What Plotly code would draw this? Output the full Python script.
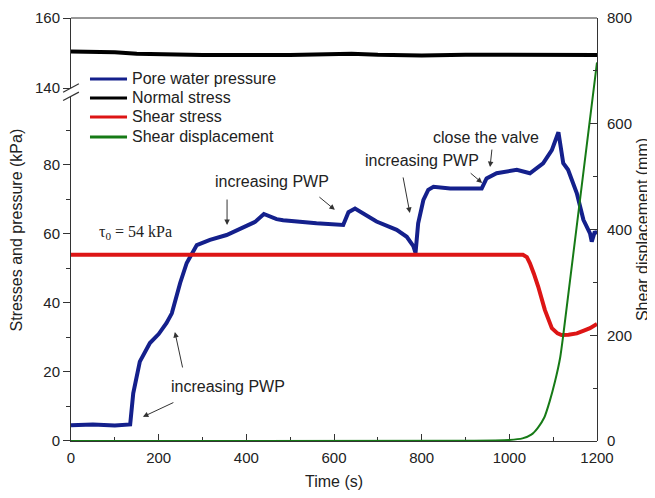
import plotly.graph_objects as go

# ---- data ----
pwp_t = [0, 50, 100, 135, 142, 157, 180, 200, 218, 230, 249, 264, 287, 317, 355, 393, 420, 440,
         469, 484, 515, 560, 621, 633, 648, 697, 743, 766, 781, 786, 792, 804, 815, 827, 865, 900,
         937, 948, 971, 1017, 1047, 1077, 1097, 1112, 1123, 1134, 1154, 1169, 1184, 1188, 1195, 1200]
pwp_v = [4.6, 4.8, 4.5, 4.8, 13.8, 23, 28.4, 31, 34.2, 37, 45.8, 51.6, 56.8, 58.3, 59.7, 62.1, 63.5, 65.8,
         64.3, 64, 63.6, 63.1, 62.6, 66.3, 67.4, 63.6, 61.2, 59.2, 56.5, 54.5, 63.1, 69.9, 72.8, 73.7, 73.2, 73.3,
         73.2, 76.1, 77.6, 78.6, 77.6, 80.5, 84.3, 89.5, 80.5, 78.6, 71.8, 64.1, 60.2, 57.8, 60.7, 60]

normal_t = [0, 100, 150, 300, 500, 640, 700, 800, 900, 1000, 1200]
normal_v = [150.4, 150.2, 149.8, 149.4, 149.4, 149.8, 149.5, 149.3, 149.5, 149.5, 149.4]

shear_t = [0, 1031, 1040, 1047, 1056, 1066, 1081, 1097, 1110, 1119, 1135, 1154, 1170, 1184, 1200]
shear_v = [54, 54, 53.3, 51.5, 48.5, 44.7, 38, 32.7, 31.2, 30.7, 30.8, 31.2, 32, 32.7, 33.9]

disp_t = [0, 900, 1000, 1030, 1050, 1065, 1080, 1092, 1104, 1116, 1123, 1200]
disp_v = [0, 0.5, 2, 5, 12, 25, 45, 75, 112, 158, 200, 716]

series_names = ["Pore water pressure", "Normal stress", "Shear stress", "Shear displacement"]
series_colors = ["#14208c", "#000000", "#dd1515", "#167a16"]

x_ticks = [0, 200, 400, 600, 800, 1000, 1200]
y_low_ticks = [0, 20, 40, 60, 80]
y_top_ticks = [140, 160]
y_right_ticks = [0, 200, 400, 600, 800]

FONT = "Liberation Sans, Arial, sans-serif"
TXT = "#222222"
AX = "#333333"

fig = go.Figure()
fig.add_trace(go.Scatter(x=pwp_t, y=pwp_v, mode="lines", name=series_names[0],
                         line=dict(color=series_colors[0], width=4), xaxis="x", yaxis="y"))
fig.add_trace(go.Scatter(x=normal_t, y=normal_v, mode="lines", name=series_names[1],
                         line=dict(color=series_colors[1], width=4), xaxis="x", yaxis="y3"))
fig.add_trace(go.Scatter(x=shear_t, y=shear_v, mode="lines", name=series_names[2],
                         line=dict(color=series_colors[2], width=4), xaxis="x", yaxis="y"))
fig.add_trace(go.Scatter(x=disp_t, y=disp_v, mode="lines", name=series_names[3],
                         line=dict(color=series_colors[3], width=2, shape="spline", smoothing=0.5),
                         xaxis="x", yaxis="y2"))

low_top = 0.8148
up_bot = 0.8345

# page body has an 8px margin, so the figure is sized/offset to land on the reference's pixels
fig.update_layout(
    width=647, height=490,
    margin=dict(l=63, r=58, t=10, b=57, autoexpand=False),
    paper_bgcolor="white", plot_bgcolor="rgba(0,0,0,0)",
    font=dict(family=FONT, size=15, color=TXT),
    showlegend=False,
    xaxis=dict(domain=[0, 1], range=[0, 1200], anchor="y", tickvals=x_ticks, automargin=False,
               ticks="inside", ticklen=7, tickcolor=AX, showline=True, linecolor=AX, linewidth=1,
               minor=dict(dtick=100, tick0=0, ticks="inside", ticklen=4, tickcolor=AX),
               showgrid=False, zeroline=False, ticklabelstandoff=3,
               title=dict(text="Time (s)", standoff=10, font=dict(size=16))),
    yaxis=dict(domain=[0, low_top], range=[0, 99.9], anchor="x", tickvals=y_low_ticks, automargin=False,
               ticks="outside", ticklen=7, tickcolor=AX, showline=True, linecolor=AX, linewidth=1,
               minor=dict(dtick=10, tick0=0, ticks="outside", ticklen=4, tickcolor=AX),
               showgrid=False, zeroline=False),
    yaxis3=dict(domain=[up_bot, 1], range=[140, 160], anchor="x", tickvals=y_top_ticks, automargin=False,
                ticks="outside", ticklen=7, tickcolor=AX, showline=True, linecolor=AX, linewidth=1,
                showgrid=False, zeroline=False),
    yaxis2=dict(domain=[0, 1], range=[0, 800], anchor="x", side="right", tickvals=y_right_ticks,
                automargin=False,
                ticks="inside", ticklen=7, tickcolor=AX, showline=True, linecolor=AX, linewidth=1,
                minor=dict(dtick=100, tick0=0, ticks="inside", ticklen=4, tickcolor=AX),
                showgrid=False, zeroline=False, ticklabelstandoff=6,
                title=dict(text="Shear displacement (mm)", standoff=5, font=dict(size=16))),
)

# top frame line and axis break marks
fig.add_shape(type="line", xref="paper", yref="paper", x0=0, x1=1, y0=1, y1=1,
              line=dict(color=AX, width=1))
for yb in (low_top, up_bot):
    fig.add_shape(type="line", xref="paper", yref="paper",
                  x0=-0.015, x1=0.015, y0=yb - 0.010, y1=yb + 0.010,
                  line=dict(color=AX, width=1.2))

# manual legend (keeps the reference's tight row spacing)
leg_rows = [0.8558, 0.8109, 0.7660, 0.7187]
for name, col, yy in zip(series_names, series_colors, leg_rows):
    fig.add_shape(type="line", xref="paper", yref="paper", x0=0.0361, x1=0.1065, y0=yy, y1=yy,
                  line=dict(color=col, width=3))
    fig.add_annotation(text=name, xref="paper", yref="paper", x=0.112, y=yy, xanchor="left",
                       yanchor="middle", showarrow=False, font=dict(size=16, color=TXT))

# left axis title
fig.add_annotation(text="Stresses and pressure (kPa)", xref="paper", yref="paper",
                   x=-0.1027, y=0.5, textangle=-90, showarrow=False,
                   xanchor="center", yanchor="middle", font=dict(size=16, color=TXT))

# text labels
labels = [("increasing PWP", 358, 15.7), ("increasing PWP", 459, 75.1),
          ("increasing PWP", 801, 81.4), ("close the valve", 947, 88.1)]
for txt, tx, ty in labels:
    fig.add_annotation(text=txt, x=tx, y=ty, xref="x", yref="y", showarrow=False,
                       font=dict(size=16, color=TXT))
fig.add_annotation(text="τ<sub>0</sub> = 54 kPa", x=146, y=60.3, xref="x", yref="y",
                   showarrow=False, font=dict(size=16, color=TXT,
                                              family="Liberation Serif, Times New Roman, serif"))

# arrows (head in data coords, tail as pixel offset)
arrows = [(164, 7.0, 32, -15), (237, 31.6, 8, 37), (356, 62.6, 0, -27), (602, 67.0, -17, -14),
          (773, 66.1, -7, -37), (938, 74.8, -13, -11), (956, 79.4, 2, -19)]
for hx, hy, ax, ay in arrows:
    fig.add_annotation(text="", x=hx, y=hy, xref="x", yref="y", ax=ax, ay=ay,
                       showarrow=True, arrowhead=2, arrowsize=1.1, arrowwidth=1, arrowcolor=AX)

fig.write_html("out.html")
